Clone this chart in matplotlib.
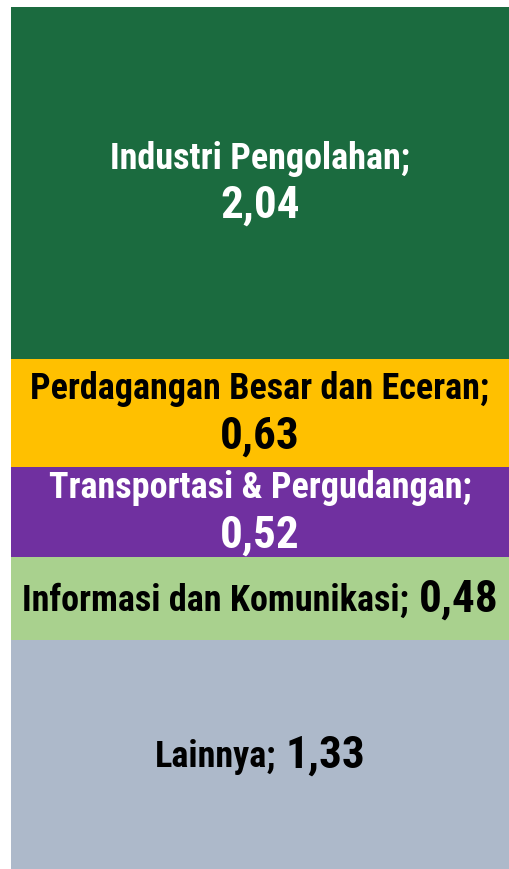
import numpy as np
import matplotlib
matplotlib.use("Agg")
import matplotlib.pyplot as plt
from matplotlib.offsetbox import TextArea, VPacker, HPacker, AnnotationBbox

sectors = ["Industri Pengolahan", "Perdagangan Besar dan Eceran",
           "Transportasi & Pergudangan", "Informasi dan Komunikasi", "Lainnya"]
values = [2.04, 0.63, 0.52, 0.48, 1.33]
colors = ["#1B6B3F", "#FFC000", "#7030A0", "#A9D18E", "#ADB9CA"]
text_colors = ["white", "black", "white", "black", "black"]
two_lines = [True, True, True, False, False]

FONT = ["Roboto Condensed", "PT Sans Narrow", "DejaVu Sans"]

fig = plt.figure(figsize=(5.09, 8.70), dpi=100)
ax = fig.add_axes([11 / 509, 0.0, 1 - 11 / 509, 1 - 8 / 870])

bottoms = np.concatenate([[0], np.cumsum(values)[:-1]])
ax.bar(0, values, bottom=bottoms, width=1.0, color=colors, linewidth=0)
ax.set_xlim(-0.5, 0.5)
ax.set_ylim(sum(values), 0)
ax.axis("off")

# label + value, stacked for the taller segments, side by side otherwise
for name, v, b, tc, two in zip(sectors, values, bottoms, text_colors, two_lines):
    val = f"{v:.2f}".replace(".", ",")
    lab = TextArea(name + ";", textprops=dict(color=tc, fontsize=26, fontweight="bold",
                                              family=FONT))
    num = TextArea(val, textprops=dict(color=tc, fontsize=32.5, fontweight="bold",
                                       family=FONT))
    if two:
        box = VPacker(children=[lab, num], align="center", pad=0, sep=6)
    else:
        box = HPacker(children=[lab, num], align="baseline", pad=0, sep=7)
    ab = AnnotationBbox(box, (0, b + v / 2), frameon=False, box_alignment=(0.5, 0.5))
    ax.add_artist(ab)

fig.savefig("out.png", dpi=100)
